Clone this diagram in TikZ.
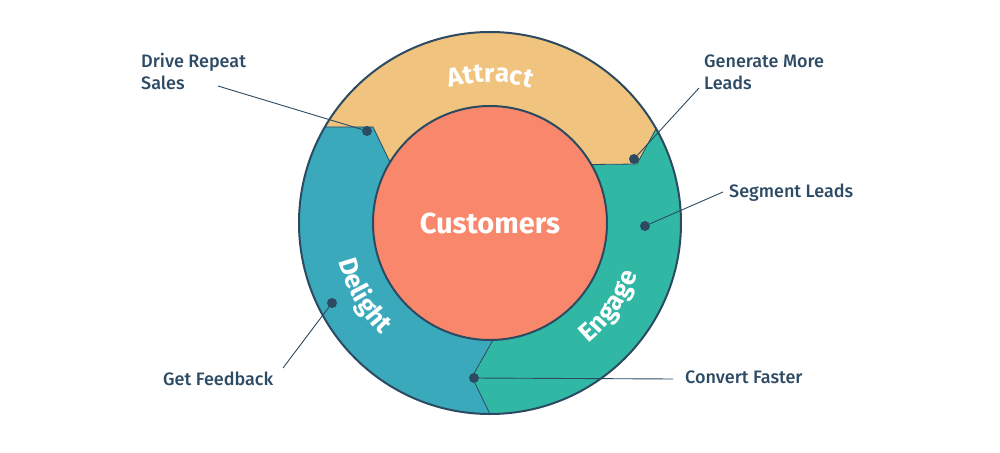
\documentclass[tikz,border=0pt]{standalone}
\usepackage{fontspec}
\setmainfont{Fira Sans}
\newfontfamily\labelfont{Fira Sans Medium}
\usetikzlibrary{decorations.text}

\definecolor{attractcol}{RGB}{240,196,126}
\definecolor{delightcol}{RGB}{58,169,188}
\definecolor{engagecol}{RGB}{49,184,165}
\definecolor{corecol}{RGB}{249,135,107}
\definecolor{outline}{RGB}{44,74,97}
\definecolor{labeltext}{RGB}{45,75,100}

\newcommand\ringfont{\color{white}\bfseries\fontsize{26}{26}\selectfont}

\tikzset{
  ringline/.style={draw=outline, line width=2pt},
  edgeline/.style={draw=outline, line width=0.8pt},
  calldot/.style={circle, fill=outline, inner sep=0pt, minimum size=10pt},
  callout/.style={draw=outline, line width=0.9pt},
  tag/.style={anchor=base west, inner sep=0pt, text=labeltext, align=left,
    font=\labelfont\fontsize{18}{22}\selectfont},
  ringtext/.style={decorate, decoration={text along path, text align=center, text={|\ringfont|#1}}},
}

\begin{document}
\begin{tikzpicture}[x=1pt, y=1pt]

    % --- Picture frame ---
    \useasboundingbox (-490,-229) rectangle (510,223);

    % --- Define Coordinates ---
    % knees where the ring segments meet
    \coordinate (AD) at (-117,96);
    \coordinate (AE) at (147,59);
    \coordinate (DE) at (-18,-154);

    % --- Ring Segments ---

    % Attract, the top segment
    \fill[attractcol] (149.8:191) arc[start angle=149.8, end angle=29.6, radius=191]
        -- (AE) -- (30:117) arc[start angle=30, end angle=148.7, radius=117] -- (AD) -- cycle;

    % Engage, the right segment
    \fill[engagecol] (29.6:191) arc[start angle=29.6, end angle=-90, radius=191]
        -- (DE) -- (-88.5:117) arc[start angle=-88.5, end angle=30, radius=117] -- (AE) -- cycle;

    % Delight, the left segment
    \fill[delightcol] (270:191) arc[start angle=270, end angle=149.8, radius=191]
        -- (AD) -- (148.7:117) arc[start angle=148.7, end angle=271.5, radius=117] -- (DE) -- cycle;

    % boundaries between the segments
    \draw[edgeline] (149.8:191) -- (AD) -- (148.7:117);
    \draw[edgeline] (29.6:191) -- (AE) -- (30:117);
    \draw[edgeline] (270:191) -- (DE) -- (-88.5:117);

    % outer rim
    \draw[ringline] (0,0) circle[radius=191];

    % --- Centre ---
    \node[circle, fill=corecol, ringline, minimum size=234pt, inner sep=0pt,
          text=white, font=\bfseries\fontsize{29}{29}\selectfont] (core) at (0,0) {Customers};

    % --- Ring Labels ---
    \path[ringtext=Attract] (125:141) arc[start angle=125, end angle=55, radius=141];
    \path[ringtext=Delight] (165:156) arc[start angle=165, end angle=255, radius=156];
    \path[ringtext=Engage] (-80:156) arc[start angle=-80, end angle=10, radius=156];

    % --- Callout Dots ---
    \node[calldot] (repeat) at (-123,92) {};
    \node[calldot] (leads) at (144,64) {};
    \node[calldot] (segment) at (155,-3) {};
    \node[calldot] (feedback) at (-158,-80) {};
    \node[calldot] (faster) at (-16,-155) {};

    % free ends of the callout lines
    \coordinate (repeatEnd) at (-272,137);
    \coordinate (leadsEnd) at (209,135);
    \coordinate (segmentEnd) at (233,31);
    \coordinate (feedbackEnd) at (-207,-145);
    \coordinate (fasterEnd) at (183,-156);

    % --- Callout Lines ---
    \draw[callout] (repeat) -- (repeatEnd);
    \draw[callout] (leads) -- (leadsEnd);
    \draw[callout] (segment) -- (segmentEnd);
    \draw[callout] (feedback) -- (feedbackEnd);
    \draw[callout] (faster) -- (fasterEnd);

    % --- Place Labels ---
    % two-line labels sit on the baseline of their last line
    \node[tag] (repeatLbl) at (-349,133) {Drive Repeat\\Sales};
    \node[tag] (leadsLbl) at (214,133) {Generate More\\Leads};
    \node[tag] (segmentLbl) at (239,25) {Segment Leads};
    \node[tag] (feedbackLbl) at (-327,-162) {Get Feedback};
    \node[tag] (fasterLbl) at (195,-160) {Convert Faster};

\end{tikzpicture}
\end{document}
